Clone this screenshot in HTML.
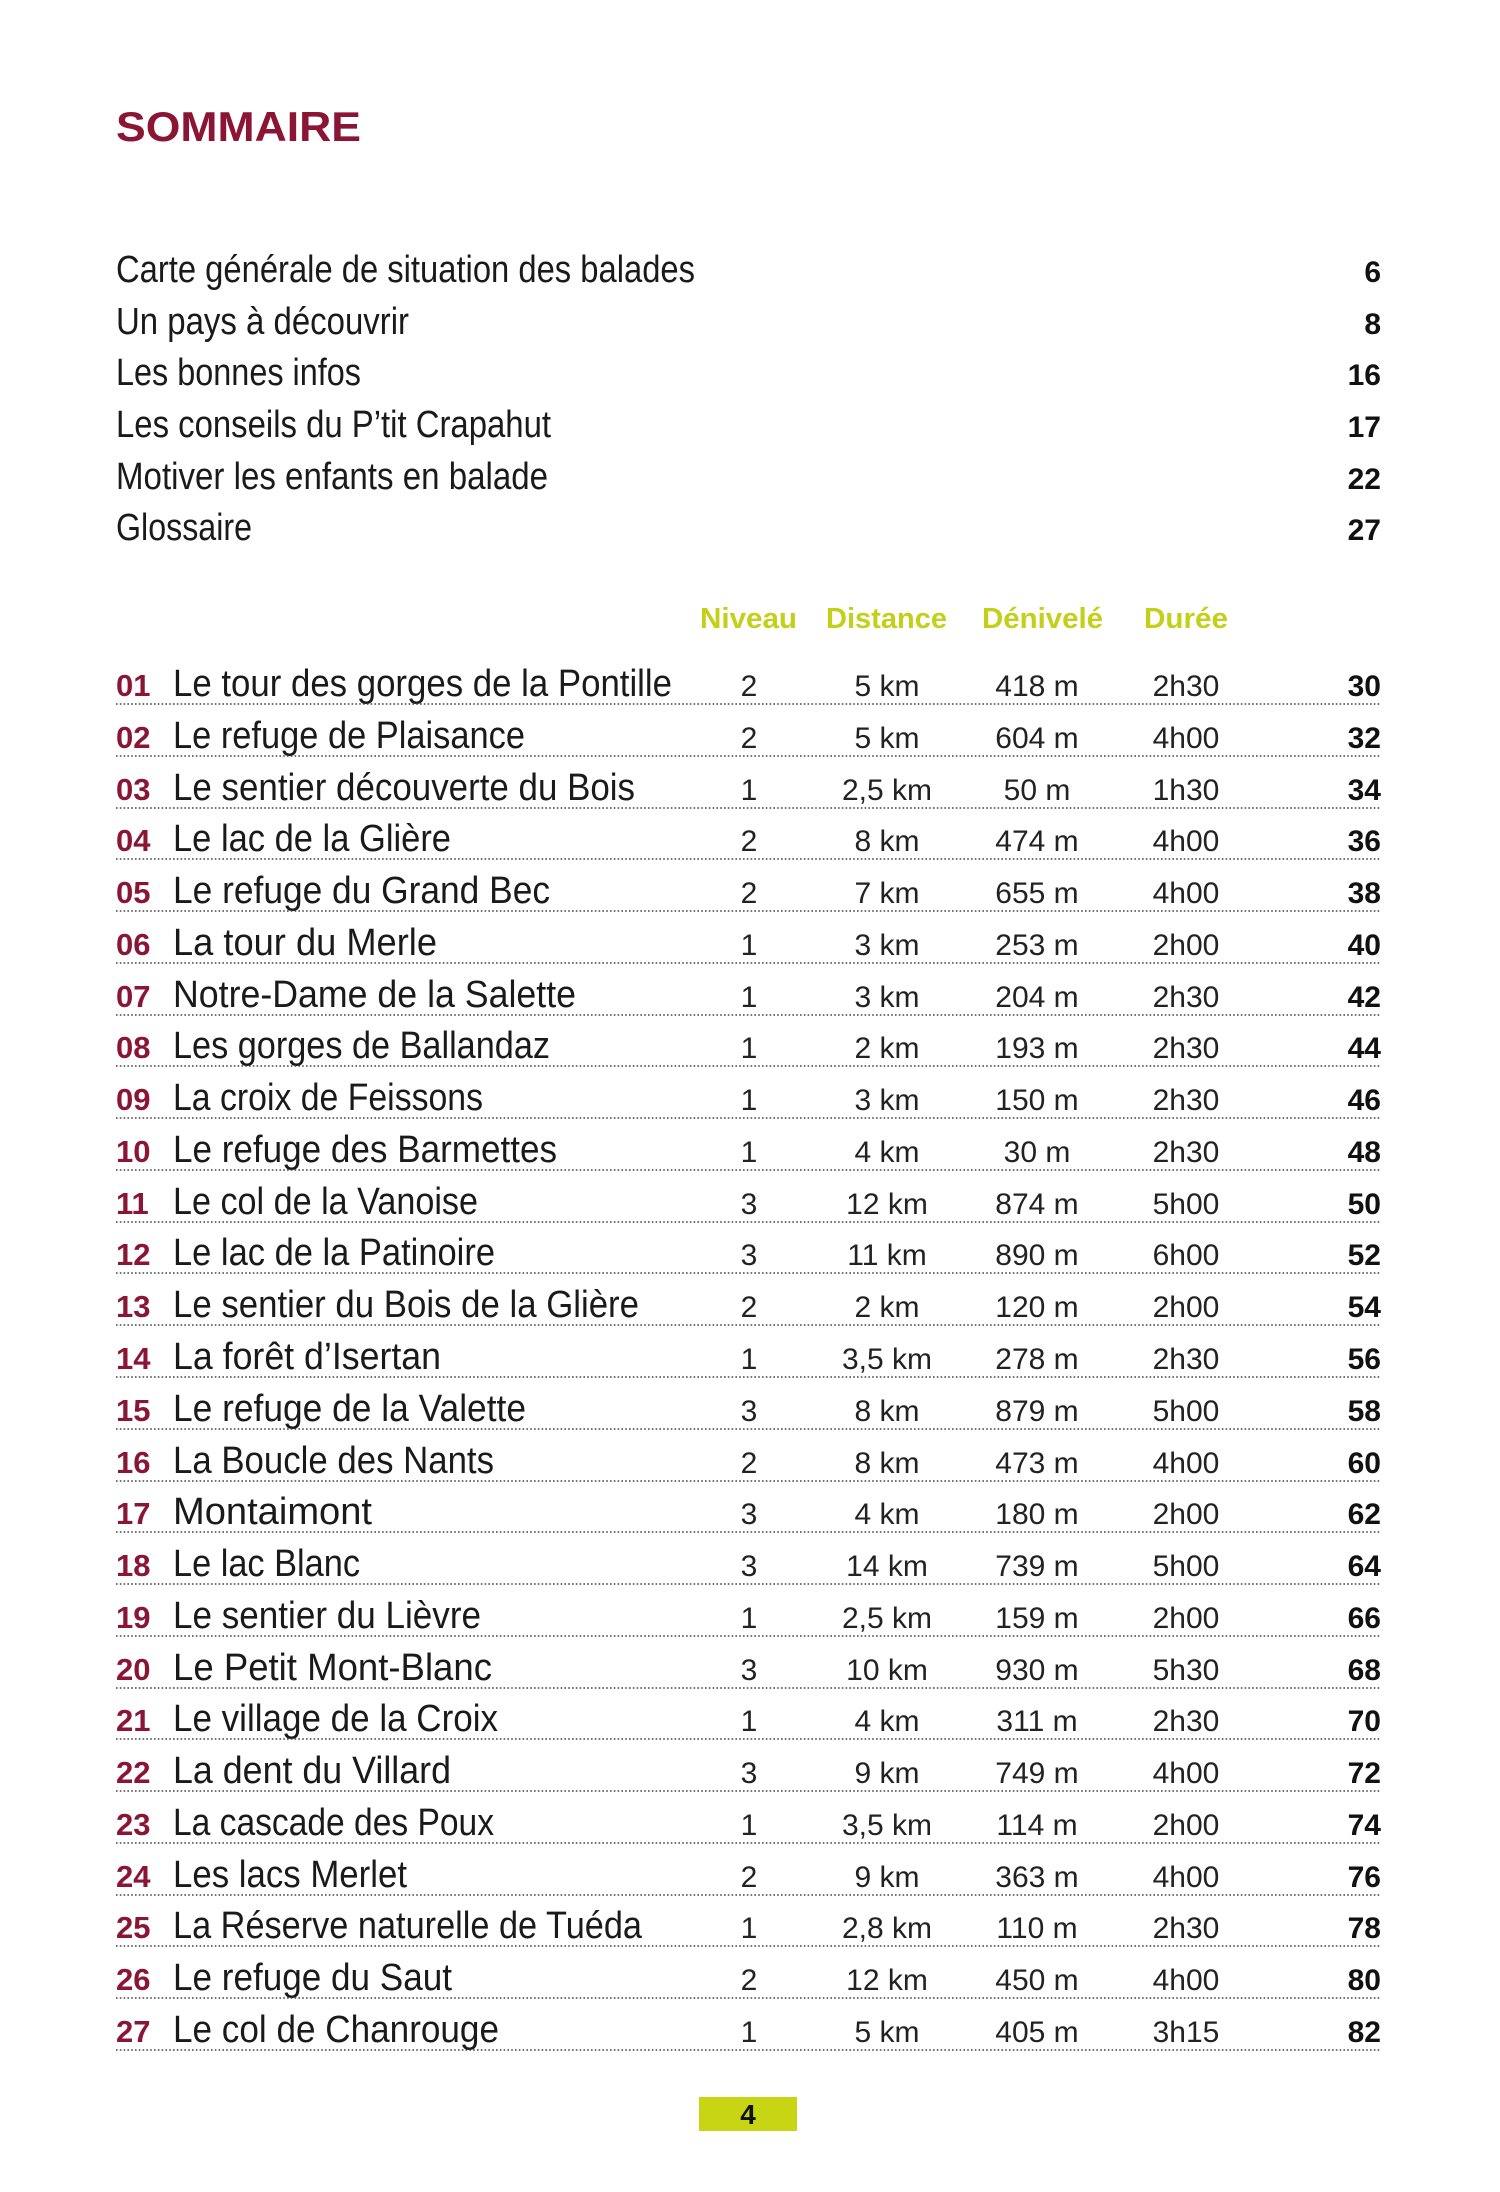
<!DOCTYPE html>
<html><head><meta charset="utf-8"><style>
html,body{margin:0;padding:0;background:#fff}
svg{display:block}
.t{font-family:"Liberation Sans",sans-serif;font-size:38px;fill:#1a1a1a;font-weight:500}
.n{font-family:"Liberation Sans",sans-serif;font-size:31px;fill:#8a1535;font-weight:bold}
.d{font-family:"Liberation Sans",sans-serif;font-size:30px;fill:#222;text-anchor:middle}
.p{font-family:"Liberation Sans",sans-serif;font-size:30px;fill:#111;font-weight:bold;text-anchor:end}
.i{font-family:"Liberation Sans",sans-serif;font-size:38px;fill:#1a1a1a}
.h{font-family:"Liberation Sans",sans-serif;font-size:29px;fill:#c3cf18;font-weight:bold}
line{stroke:#444;stroke-width:1.6;stroke-dasharray:1.6 2.2}
</style></head><body>
<svg width="1500" height="2192" viewBox="0 0 1500 2192" xmlns="http://www.w3.org/2000/svg">
<text x="116" y="141" font-family="Liberation Sans,sans-serif" font-size="42" font-weight="bold" fill="#8a1535" textLength="245" lengthAdjust="spacingAndGlyphs">SOMMAIRE</text>

<text class="i" x="116" y="282" textLength="579" lengthAdjust="spacingAndGlyphs">Carte générale de situation des balades</text><text class="p" x="1381" y="282">6</text>
<text class="i" x="116" y="334" textLength="293" lengthAdjust="spacingAndGlyphs">Un pays à découvrir</text><text class="p" x="1381" y="334">8</text>
<text class="i" x="116" y="385" textLength="245" lengthAdjust="spacingAndGlyphs">Les bonnes infos</text><text class="p" x="1381" y="385">16</text>
<text class="i" x="116" y="437" textLength="435" lengthAdjust="spacingAndGlyphs">Les conseils du P’tit Crapahut</text><text class="p" x="1381" y="437">17</text>
<text class="i" x="116" y="489" textLength="432" lengthAdjust="spacingAndGlyphs">Motiver les enfants en balade</text><text class="p" x="1381" y="489">22</text>
<text class="i" x="116" y="540" textLength="136" lengthAdjust="spacingAndGlyphs">Glossaire</text><text class="p" x="1381" y="540">27</text>

<text class="h" x="700" y="628" textLength="97" lengthAdjust="spacingAndGlyphs">Niveau</text>
<text class="h" x="826" y="628" textLength="121" lengthAdjust="spacingAndGlyphs">Distance</text>
<text class="h" x="982" y="628" textLength="121" lengthAdjust="spacingAndGlyphs">Dénivelé</text>
<text class="h" x="1144" y="628" textLength="84" lengthAdjust="spacingAndGlyphs">Durée</text>

<g>
<text class="n" x="116" y="696">01</text><text class="t" x="173" y="696" textLength="499" lengthAdjust="spacingAndGlyphs">Le tour des gorges de la Pontille</text><text class="d" x="749" y="696">2</text><text class="d" x="887" y="696">5 km</text><text class="d" x="1037" y="696">418 m</text><text class="d" x="1186" y="696">2h30</text><text class="p" x="1381" y="696">30</text><line x1="116" x2="1381" y1="704" y2="704"/>
<text class="n" x="116" y="748">02</text><text class="t" x="173" y="748" textLength="352" lengthAdjust="spacingAndGlyphs">Le refuge de Plaisance</text><text class="d" x="749" y="748">2</text><text class="d" x="887" y="748">5 km</text><text class="d" x="1037" y="748">604 m</text><text class="d" x="1186" y="748">4h00</text><text class="p" x="1381" y="748">32</text><line x1="116" x2="1381" y1="756" y2="756"/>
<text class="n" x="116" y="800">03</text><text class="t" x="173" y="800" textLength="462" lengthAdjust="spacingAndGlyphs">Le sentier découverte du Bois</text><text class="d" x="749" y="800">1</text><text class="d" x="887" y="800">2,5 km</text><text class="d" x="1037" y="800">50 m</text><text class="d" x="1186" y="800">1h30</text><text class="p" x="1381" y="800">34</text><line x1="116" x2="1381" y1="808" y2="808"/>
<text class="n" x="116" y="851">04</text><text class="t" x="173" y="851" textLength="278" lengthAdjust="spacingAndGlyphs">Le lac de la Glière</text><text class="d" x="749" y="851">2</text><text class="d" x="887" y="851">8 km</text><text class="d" x="1037" y="851">474 m</text><text class="d" x="1186" y="851">4h00</text><text class="p" x="1381" y="851">36</text><line x1="116" x2="1381" y1="859" y2="859"/>
<text class="n" x="116" y="903">05</text><text class="t" x="173" y="903" textLength="377" lengthAdjust="spacingAndGlyphs">Le refuge du Grand Bec</text><text class="d" x="749" y="903">2</text><text class="d" x="887" y="903">7 km</text><text class="d" x="1037" y="903">655 m</text><text class="d" x="1186" y="903">4h00</text><text class="p" x="1381" y="903">38</text><line x1="116" x2="1381" y1="911" y2="911"/>
<text class="n" x="116" y="955">06</text><text class="t" x="173" y="955" textLength="264" lengthAdjust="spacingAndGlyphs">La tour du Merle</text><text class="d" x="749" y="955">1</text><text class="d" x="887" y="955">3 km</text><text class="d" x="1037" y="955">253 m</text><text class="d" x="1186" y="955">2h00</text><text class="p" x="1381" y="955">40</text><line x1="116" x2="1381" y1="963" y2="963"/>
<text class="n" x="116" y="1007">07</text><text class="t" x="173" y="1007" textLength="403" lengthAdjust="spacingAndGlyphs">Notre-Dame de la Salette</text><text class="d" x="749" y="1007">1</text><text class="d" x="887" y="1007">3 km</text><text class="d" x="1037" y="1007">204 m</text><text class="d" x="1186" y="1007">2h30</text><text class="p" x="1381" y="1007">42</text><line x1="116" x2="1381" y1="1015" y2="1015"/>
<text class="n" x="116" y="1058">08</text><text class="t" x="173" y="1058" textLength="377" lengthAdjust="spacingAndGlyphs">Les gorges de Ballandaz</text><text class="d" x="749" y="1058">1</text><text class="d" x="887" y="1058">2 km</text><text class="d" x="1037" y="1058">193 m</text><text class="d" x="1186" y="1058">2h30</text><text class="p" x="1381" y="1058">44</text><line x1="116" x2="1381" y1="1066" y2="1066"/>
<text class="n" x="116" y="1110">09</text><text class="t" x="173" y="1110" textLength="310" lengthAdjust="spacingAndGlyphs">La croix de Feissons</text><text class="d" x="749" y="1110">1</text><text class="d" x="887" y="1110">3 km</text><text class="d" x="1037" y="1110">150 m</text><text class="d" x="1186" y="1110">2h30</text><text class="p" x="1381" y="1110">46</text><line x1="116" x2="1381" y1="1118" y2="1118"/>
<text class="n" x="116" y="1162">10</text><text class="t" x="173" y="1162" textLength="384" lengthAdjust="spacingAndGlyphs">Le refuge des Barmettes</text><text class="d" x="749" y="1162">1</text><text class="d" x="887" y="1162">4 km</text><text class="d" x="1037" y="1162">30 m</text><text class="d" x="1186" y="1162">2h30</text><text class="p" x="1381" y="1162">48</text><line x1="116" x2="1381" y1="1170" y2="1170"/>
<text class="n" x="116" y="1214">11</text><text class="t" x="173" y="1214" textLength="305" lengthAdjust="spacingAndGlyphs">Le col de la Vanoise</text><text class="d" x="749" y="1214">3</text><text class="d" x="887" y="1214">12 km</text><text class="d" x="1037" y="1214">874 m</text><text class="d" x="1186" y="1214">5h00</text><text class="p" x="1381" y="1214">50</text><line x1="116" x2="1381" y1="1222" y2="1222"/>
<text class="n" x="116" y="1265">12</text><text class="t" x="173" y="1265" textLength="322" lengthAdjust="spacingAndGlyphs">Le lac de la Patinoire</text><text class="d" x="749" y="1265">3</text><text class="d" x="887" y="1265">11 km</text><text class="d" x="1037" y="1265">890 m</text><text class="d" x="1186" y="1265">6h00</text><text class="p" x="1381" y="1265">52</text><line x1="116" x2="1381" y1="1273" y2="1273"/>
<text class="n" x="116" y="1317">13</text><text class="t" x="173" y="1317" textLength="466" lengthAdjust="spacingAndGlyphs">Le sentier du Bois de la Glière</text><text class="d" x="749" y="1317">2</text><text class="d" x="887" y="1317">2 km</text><text class="d" x="1037" y="1317">120 m</text><text class="d" x="1186" y="1317">2h00</text><text class="p" x="1381" y="1317">54</text><line x1="116" x2="1381" y1="1325" y2="1325"/>
<text class="n" x="116" y="1369">14</text><text class="t" x="173" y="1369" textLength="268" lengthAdjust="spacingAndGlyphs">La forêt d’Isertan</text><text class="d" x="749" y="1369">1</text><text class="d" x="887" y="1369">3,5 km</text><text class="d" x="1037" y="1369">278 m</text><text class="d" x="1186" y="1369">2h30</text><text class="p" x="1381" y="1369">56</text><line x1="116" x2="1381" y1="1377" y2="1377"/>
<text class="n" x="116" y="1421">15</text><text class="t" x="173" y="1421" textLength="353" lengthAdjust="spacingAndGlyphs">Le refuge de la Valette</text><text class="d" x="749" y="1421">3</text><text class="d" x="887" y="1421">8 km</text><text class="d" x="1037" y="1421">879 m</text><text class="d" x="1186" y="1421">5h00</text><text class="p" x="1381" y="1421">58</text><line x1="116" x2="1381" y1="1429" y2="1429"/>
<text class="n" x="116" y="1473">16</text><text class="t" x="173" y="1473" textLength="321" lengthAdjust="spacingAndGlyphs">La Boucle des Nants</text><text class="d" x="749" y="1473">2</text><text class="d" x="887" y="1473">8 km</text><text class="d" x="1037" y="1473">473 m</text><text class="d" x="1186" y="1473">4h00</text><text class="p" x="1381" y="1473">60</text><line x1="116" x2="1381" y1="1481" y2="1481"/>
<text class="n" x="116" y="1524">17</text><text class="t" x="173" y="1524" textLength="199" lengthAdjust="spacingAndGlyphs">Montaimont</text><text class="d" x="749" y="1524">3</text><text class="d" x="887" y="1524">4 km</text><text class="d" x="1037" y="1524">180 m</text><text class="d" x="1186" y="1524">2h00</text><text class="p" x="1381" y="1524">62</text><line x1="116" x2="1381" y1="1532" y2="1532"/>
<text class="n" x="116" y="1576">18</text><text class="t" x="173" y="1576" textLength="187" lengthAdjust="spacingAndGlyphs">Le lac Blanc</text><text class="d" x="749" y="1576">3</text><text class="d" x="887" y="1576">14 km</text><text class="d" x="1037" y="1576">739 m</text><text class="d" x="1186" y="1576">5h00</text><text class="p" x="1381" y="1576">64</text><line x1="116" x2="1381" y1="1584" y2="1584"/>
<text class="n" x="116" y="1628">19</text><text class="t" x="173" y="1628" textLength="308" lengthAdjust="spacingAndGlyphs">Le sentier du Lièvre</text><text class="d" x="749" y="1628">1</text><text class="d" x="887" y="1628">2,5 km</text><text class="d" x="1037" y="1628">159 m</text><text class="d" x="1186" y="1628">2h00</text><text class="p" x="1381" y="1628">66</text><line x1="116" x2="1381" y1="1636" y2="1636"/>
<text class="n" x="116" y="1680">20</text><text class="t" x="173" y="1680" textLength="319" lengthAdjust="spacingAndGlyphs">Le Petit Mont-Blanc</text><text class="d" x="749" y="1680">3</text><text class="d" x="887" y="1680">10 km</text><text class="d" x="1037" y="1680">930 m</text><text class="d" x="1186" y="1680">5h30</text><text class="p" x="1381" y="1680">68</text><line x1="116" x2="1381" y1="1688" y2="1688"/>
<text class="n" x="116" y="1731">21</text><text class="t" x="173" y="1731" textLength="325" lengthAdjust="spacingAndGlyphs">Le village de la Croix</text><text class="d" x="749" y="1731">1</text><text class="d" x="887" y="1731">4 km</text><text class="d" x="1037" y="1731">311 m</text><text class="d" x="1186" y="1731">2h30</text><text class="p" x="1381" y="1731">70</text><line x1="116" x2="1381" y1="1739" y2="1739"/>
<text class="n" x="116" y="1783">22</text><text class="t" x="173" y="1783" textLength="278" lengthAdjust="spacingAndGlyphs">La dent du Villard</text><text class="d" x="749" y="1783">3</text><text class="d" x="887" y="1783">9 km</text><text class="d" x="1037" y="1783">749 m</text><text class="d" x="1186" y="1783">4h00</text><text class="p" x="1381" y="1783">72</text><line x1="116" x2="1381" y1="1791" y2="1791"/>
<text class="n" x="116" y="1835">23</text><text class="t" x="173" y="1835" textLength="321" lengthAdjust="spacingAndGlyphs">La cascade des Poux</text><text class="d" x="749" y="1835">1</text><text class="d" x="887" y="1835">3,5 km</text><text class="d" x="1037" y="1835">114 m</text><text class="d" x="1186" y="1835">2h00</text><text class="p" x="1381" y="1835">74</text><line x1="116" x2="1381" y1="1843" y2="1843"/>
<text class="n" x="116" y="1887">24</text><text class="t" x="173" y="1887" textLength="234" lengthAdjust="spacingAndGlyphs">Les lacs Merlet</text><text class="d" x="749" y="1887">2</text><text class="d" x="887" y="1887">9 km</text><text class="d" x="1037" y="1887">363 m</text><text class="d" x="1186" y="1887">4h00</text><text class="p" x="1381" y="1887">76</text><line x1="116" x2="1381" y1="1895" y2="1895"/>
<text class="n" x="116" y="1938">25</text><text class="t" x="173" y="1938" textLength="469" lengthAdjust="spacingAndGlyphs">La Réserve naturelle de Tuéda</text><text class="d" x="749" y="1938">1</text><text class="d" x="887" y="1938">2,8 km</text><text class="d" x="1037" y="1938">110 m</text><text class="d" x="1186" y="1938">2h30</text><text class="p" x="1381" y="1938">78</text><line x1="116" x2="1381" y1="1946" y2="1946"/>
<text class="n" x="116" y="1990">26</text><text class="t" x="173" y="1990" textLength="279" lengthAdjust="spacingAndGlyphs">Le refuge du Saut</text><text class="d" x="749" y="1990">2</text><text class="d" x="887" y="1990">12 km</text><text class="d" x="1037" y="1990">450 m</text><text class="d" x="1186" y="1990">4h00</text><text class="p" x="1381" y="1990">80</text><line x1="116" x2="1381" y1="1998" y2="1998"/>
<text class="n" x="116" y="2042">27</text><text class="t" x="173" y="2042" textLength="326" lengthAdjust="spacingAndGlyphs">Le col de Chanrouge</text><text class="d" x="749" y="2042">1</text><text class="d" x="887" y="2042">5 km</text><text class="d" x="1037" y="2042">405 m</text><text class="d" x="1186" y="2042">3h15</text><text class="p" x="1381" y="2042">82</text><line x1="116" x2="1381" y1="2050" y2="2050"/>
</g>

<rect x="699" y="2097" width="98" height="34" fill="#c8d514"/>
<text x="748" y="2124" text-anchor="middle" font-family="Liberation Sans,sans-serif" font-size="28" font-weight="bold" fill="#111">4</text>
</svg>
</body></html>
